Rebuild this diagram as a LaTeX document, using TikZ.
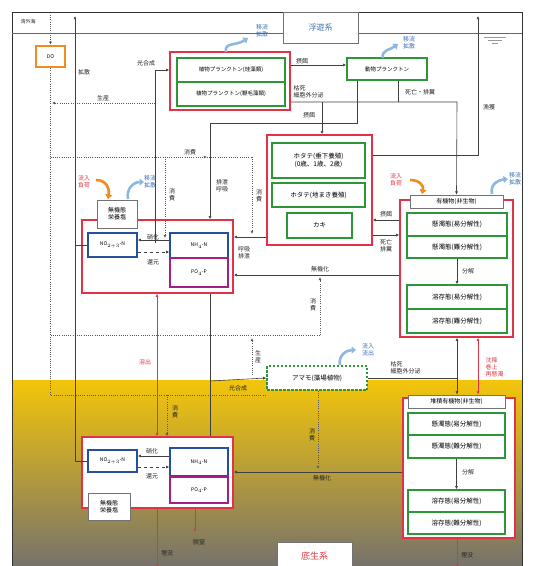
\documentclass[tikz,border=0pt]{standalone}
\usepackage{fontspec}
\setmainfont{Noto Sans CJK JP}
\usetikzlibrary{arrows.meta}
\definecolor{redC}{RGB}{226,50,70}
\definecolor{greenC}{RGB}{45,150,55}
\definecolor{blueC}{RGB}{35,80,160}
\definecolor{magC}{RGB}{165,30,135}
\definecolor{orangeC}{RGB}{240,140,30}
\definecolor{skyC}{RGB}{140,185,225}
\definecolor{lblue}{RGB}{60,110,180}
\definecolor{lred}{RGB}{225,60,70}
\definecolor{yelC}{RGB}{243,197,10}
\definecolor{midC}{RGB}{220,182,40}
\definecolor{botC}{RGB}{118,114,108}
\begin{document}
\begin{tikzpicture}[x=1pt,y=-1pt,
  >={Latex[length=3.2pt,width=3pt]},
  rbox/.style={draw=redC,line width=1.5pt,fill=white,inner sep=0pt},
  gbox/.style={draw=greenC,line width=1.5pt,fill=white,inner sep=0pt,align=center,font=\fontsize{6.5}{8}\selectfont},
  pbox/.style={gbox,font=\fontsize{5.5}{6.5}\selectfont},
  bbox/.style={draw=blueC,line width=1.5pt,fill=white,inner sep=0pt,font=\fontsize{5}{6}\selectfont},
  mbox/.style={draw=magC,line width=1.5pt,fill=white,inner sep=0pt,font=\fontsize{5}{6}\selectfont},
  hbox/.style={draw=black!55,line width=0.8pt,fill=white,inner sep=0pt,align=center,font=\fontsize{6}{7}\selectfont},
  conn/.style={draw=black!75,line width=0.6pt},
  dotc/.style={draw=black!65,line width=0.7pt,dash pattern=on 0.8pt off 1.4pt},
  redl/.style={draw=redC,line width=0.8pt},
  lbl/.style={inner sep=0.5pt,align=center,font=\fontsize{6}{7}\selectfont,text=black!85},
  blbl/.style={lbl,text=lblue},
  rlbl/.style={lbl,text=lred},
  cloudb/.style={draw=skyC,line width=2.6pt,-{Triangle[length=4.5pt,width=7pt]}},
  cloudo/.style={draw=orangeC,line width=2.6pt,-{Triangle[length=4.5pt,width=7pt]}},
]
\useasboundingbox (0,0) rectangle (534,566);
\clip (0,0) rectangle (534,566);
\fill[white] (0,0) rectangle (534,566);
\shade[top color=yelC, middle color=midC, bottom color=botC] (12,380) rectangle (522,566);
% frame and surface
\draw[black!80,line width=0.8pt] (12,566) -- (12,12) -- (522,12) -- (522,566);
\draw[black!60,line width=1pt] (12,33) -- (522,33);
\draw[black!40,line width=0.6pt] (484,37) -- (506,37) (488,40) -- (502,40) (492,43) -- (498,43);

% ---------- nodes ----------
\node[hbox,minimum width=75,minimum height=31,text=lblue,font=\fontsize{8}{9}\selectfont] (fuyu) at (320.5,27.5) {浮遊系};
\node[lbl,font=\fontsize{5}{6}\selectfont] (wangai) at (28,22) {湾外海};
\node[draw=orangeC,line width=2.4pt,fill=white,inner sep=0pt,minimum width=29,minimum height=21,font=\fontsize{5}{6}\selectfont] (do) at (50.5,56.5) {DO};

\node[rbox,minimum width=120,minimum height=58] (phy) at (230,81) {};
\node[pbox,minimum width=108,minimum height=24] (phy1) at (231,70) {植物プランクトン(珪藻類)};
\node[pbox,minimum width=108,minimum height=24] (phy2) at (231,94) {植物プランクトン(鞭毛藻類)};
\node[pbox,minimum width=80,minimum height=22] (zoo) at (387,69) {動物プランクトン};

\node[rbox,minimum width=105,minimum height=110] (hot) at (319.5,190) {};
\node[gbox,minimum width=93,minimum height=35] (hot1) at (318.5,160.5) {ホタテ(垂下養殖)\\(0歳、1歳、2歳)};
\node[gbox,minimum width=93,minimum height=24] (hot2) at (318.5,195) {ホタテ(地まき養殖)};
\node[gbox,minimum width=65,minimum height=25] (hot3) at (319.5,225.5) {カキ};

\node[rbox,minimum width=113,minimum height=137] (org) at (456.5,268.5) {};
\node[hbox,minimum width=93,minimum height=13] (orgh) at (456.5,201.5) {有機物(非生物)};
\node[gbox,minimum width=100,minimum height=23] (o1) at (457,224.5) {懸濁態(易分解性)};
\node[gbox,minimum width=100,minimum height=22] (o2) at (457,247) {懸濁態(難分解性)};
\node[gbox,minimum width=100,minimum height=24] (o3) at (457,297) {溶存態(易分解性)};
\node[gbox,minimum width=100,minimum height=24] (o4) at (457,321) {溶存態(難分解性)};

\node[rbox,minimum width=151,minimum height=73] (nut) at (157.5,256.5) {};
\node[hbox,minimum width=40,minimum height=28] (nuth) at (117,214) {無機態\\栄養塩};
\node[bbox,minimum width=49,minimum height=24] (nou) at (112.5,245) {NO$_{2+3}$-N};
\node[bbox,minimum width=58,minimum height=25] (nhu) at (199,245.5) {NH$_4$-N};
\node[mbox,minimum width=58,minimum height=29] (pou) at (199,272.5) {PO$_4$-P};

\node[draw=greenC,line width=1.5pt,dash pattern=on 2.5pt off 1.5pt,fill=white,inner sep=0pt,minimum width=100,minimum height=24,font=\fontsize{6.5}{8}\selectfont] (ama) at (317,378) {アマモ(藻場植物)};

\node[rbox,minimum width=112,minimum height=140] (lorg) at (459,468) {};
\node[hbox,minimum width=97,minimum height=13] (lorgh) at (456.5,401.5) {堆積有機物(非生物)};
\node[gbox,minimum width=97,minimum height=22] (l1) at (456.5,424) {懸濁態(易分解性)};
\node[gbox,minimum width=97,minimum height=23] (l2) at (456.5,446.5) {懸濁態(難分解性)};
\node[gbox,minimum width=97,minimum height=22] (l3) at (456.5,501) {溶存態(易分解性)};
\node[gbox,minimum width=97,minimum height=22] (l4) at (456.5,523) {溶存態(難分解性)};

\node[rbox,minimum width=151,minimum height=71] (lnut) at (157.5,472.5) {};
\node[hbox,minimum width=42,minimum height=27] (lnuth) at (109,506.5) {無機態\\栄養塩};
\node[bbox,minimum width=49,minimum height=22] (lno) at (112.5,461) {NO$_{2+3}$-N};
\node[bbox,minimum width=58,minimum height=28] (lnh) at (199,462) {NH$_4$-N};
\node[mbox,minimum width=58,minimum height=26] (lpo) at (199,490) {PO$_4$-P};

\node[hbox,minimum width=75,minimum height=28,text=lred,font=\fontsize{9}{10}\selectfont] (tei) at (314.5,556) {底生系};

% ---------- dotted DO lines ----------
\coordinate (dtop) at (50.5,15);
\draw[dotc,->] (dtop) -- (do.north);
\draw[dotc] (do.south) -- (50.5,395) -- (ama.south west |- 0,395);
\draw[dotc] (50.5,335) -- (320,335);
\draw[dotc,->] (320,335) -- (320,277);
\draw[dotc] (50.5,157) -- (252,157);
\draw[dotc,->] (50.5,157) -- (207,157);
\draw[dotc,->] (252,157) -- (252,234);
\draw[dotc,->] (165,157) -- (165,238);
\draw[dotc,->] (155,103) -- (52,103);
\draw[dotc,->] (252,375) -- (252,338);
\draw[dotc,->] (167,395) -- (lnut.north -| 167,0);
\draw[dotc,->] (ama.south -| 318,0) -- (318,469);

% ---------- solid connectors ----------
\coordinate (t75) at (75,16);
\draw[conn,->] (lno.west -| 75,0) -- (t75);
\draw[conn] (lno.west -| 75,0) -- (lno.west);
\draw[conn] (nou.west -| 75,0) -- (nou.west);
\draw[conn,->] (155,243) -- (155,70) -- (phy.west |- 0,70);
\draw[conn,->] (phy.east |- 0,65) -- (zoo.west |- 0,65);
\draw[conn,->] (phy.east |- 0,102) -- (457,102) -- (orgh.north);
\draw[conn] (zoo.south -| 398,0) -- (398,102);
\draw[conn,->] (322,102) -- (hot.north -| 322,0);
\draw[conn,->] (zoo.south -| 357,0) -- (357,123) -- (210,123) -- (nut.north -| 210,0);
\draw[conn] (nut.south -| 210,0) -- (lnut.north -| 210,0);
\coordinate (t478) at (478,16);
\draw[conn,->] (hot.east |- 0,155) -- (478,155) -- (t478);
\draw[conn,->] (org.west |- 0,220) -- (hot.east |- 0,220);
\draw[conn,->] (hot.east |- 0,235) -- (org.west |- 0,235);
\draw[conn,->] (hot.west |- 0,237) -- (nut.east |- 0,237);
\draw[conn,->] (org.west |- 0,275) -- (nut.east |- 0,275);
\draw[conn,->] (o2.south) -- (o3.north);
\draw[conn,->] (nhu.west |- 0,240) -- (nou.east |- 0,240);
\draw[conn,->,dashed] (nou.east |- 0,252) -- (nhu.west |- 0,252);
\draw[conn,->] (210,381) -- (ama.west);
\draw[conn] (ama.east) -- (457,378);
\draw[conn,<->] (org.south -| 457,0) -- (lorgh.north -| 457,0);
\draw[redl,<->] (org.south -| 478,0) -- (lorgh.north -| 478,0);
\draw[redl,<->] (nut.south -| 157,0) -- (lnut.north -| 157,0);
\draw[conn,->] (lorg.west |- 0,472) -- (lnut.east |- 0,472);
\draw[conn,->] (l2.south) -- (l3.north);
\draw[conn,->] (lnh.west |- 0,456) -- (lno.east |- 0,456);
\draw[conn,->,dashed] (lno.east |- 0,467) -- (lnh.west |- 0,467);
\coordinate (b157) at (157,568);
\coordinate (b195) at (195,532);
\coordinate (b457) at (457,568);
\draw[redl,->] (lnut.south -| 157,0) -- (b157);
\draw[redl,->] (lnut.south -| 195,0) -- (b195);
\draw[redl,->] (lorg.south -| 457,0) -- (b457);

% ---------- cloud arrows ----------
\draw[cloudb] (226,52) .. controls (224,42) and (236,46) .. (248,38);
\draw[cloudb] (383,58) .. controls (381,50) and (390,50) .. (398,44);
\draw[cloudo] (96,180) .. controls (106,180) and (110,188) .. (108,199);
\draw[cloudb] (128,199) .. controls (126,188) and (134,182) .. (144,182);
\draw[cloudo] (410,180) .. controls (420,180) and (424,186) .. (422,194);
\draw[cloudb] (492,194) .. controls (490,184) and (498,180) .. (508,179);
\draw[cloudb] (340,365) .. controls (338,356) and (346,350) .. (356,350);

% ---------- labels ----------
\node[lbl] (L1) at (84,72) {拡散};
\node[lbl] (L2) at (146,63) {光合成};
\node[lbl] (L3) at (103,98) {生産};
\node[lbl] (L4) at (190,152) {消費};
\node[lbl] (L5) at (172,195) {消\\費};
\node[lbl] (L6) at (222,186) {排泄\\呼吸};
\node[lbl] (L7) at (259,196) {消\\費};
\node[lbl] (L8) at (302,61) {摂餌};
\node[lbl,anchor=west,align=left] (L9) at (293,92) {枯死\\細胞外分泌};
\node[lbl] (L10) at (420,92) {死亡・排糞};
\node[lbl] (L11) at (309,115) {摂餌};
\node[lbl] (L12) at (489,107) {漁獲};
\node[lbl] (L13) at (386,214) {摂餌};
\node[lbl] (L14) at (386,246) {死亡\\排糞};
\node[lbl] (L15) at (244,253) {呼吸\\排泄};
\node[lbl] (L16) at (320,269) {無機化};
\node[lbl] (L17) at (468,271) {分解};
\node[lbl] (L18) at (153,237) {硝化};
\node[lbl] (L19) at (153,262) {還元};
\node[lbl] (L20) at (313,305) {消\\費};
\node[lbl] (L21) at (258,357) {生\\産};
\node[lbl] (L22) at (238,388) {光合成};
\node[rlbl] (L23) at (145,362) {溶出};
\node[lbl] (L24) at (175,412) {消\\費};
\node[lbl] (L25) at (312,435) {消\\費};
\node[lbl] (L26) at (322,478) {無機化};
\node[lbl,anchor=west,align=left] (L27) at (390,368) {枯死\\細胞外分泌};
\node[rlbl,anchor=west,align=left] (L28) at (485,367) {沈降\\巻上\\再懸濁};
\node[lbl] (L29) at (468,472) {分解};
\node[lbl] (L30) at (152,451) {硝化};
\node[lbl] (L31) at (152,476) {還元};
\node[lbl] (L32) at (167,553) {埋没};
\node[lbl] (L33) at (199,542) {脱窒};
\node[lbl] (L34) at (467,555) {埋没};
\node[blbl] (C1) at (262,31) {移流\\拡散};
\node[blbl] (C2) at (409,43) {移流\\拡散};
\node[blbl] (C3) at (150,182) {移流\\拡散};
\node[blbl] (C4) at (515,179) {移流\\拡散};
\node[blbl] (C5) at (368,350) {流入\\流出};
\node[rlbl] (C6) at (84,182) {流入\\負荷};
\node[rlbl] (C7) at (396,180) {流入\\負荷};
\end{tikzpicture}
\end{document}
